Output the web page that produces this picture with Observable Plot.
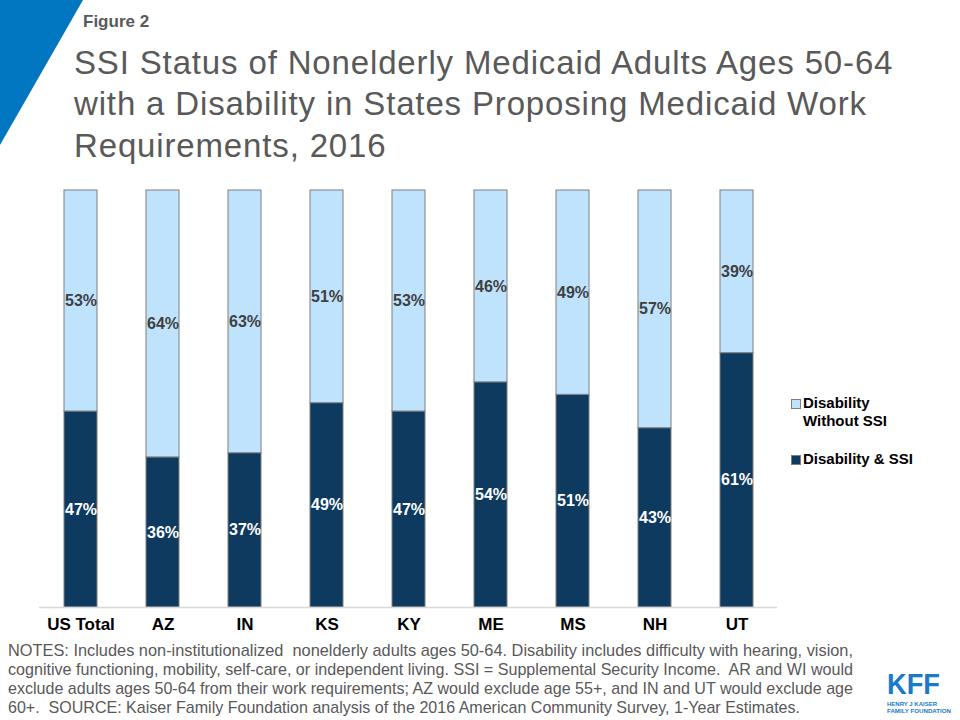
<!DOCTYPE html>
<html>
<head>
<meta charset="utf-8">
<script src="https://cdn.jsdelivr.net/npm/d3@7"></script>
<script src="https://cdn.jsdelivr.net/npm/@observablehq/plot@0.6"></script>
<style>
  body { margin: 0; background: #fff; }
  #page { position: relative; width: 960px; height: 720px; overflow: hidden; font-family: "Liberation Sans", Arial, sans-serif; }
  #tri { position: absolute; left: 0; top: 0; }
  #fig { position: absolute; left: 83px; top: 12px; font-size: 17px; font-weight: bold; color: #595959; }
  #title { position: absolute; left: 74px; top: 41.5px; font-size: 33px; letter-spacing: 0.85px; line-height: 41.5px; color: #595959; white-space: nowrap; }
  #chart { position: absolute; left: 0; top: 180px; }
  .leg { position: absolute; left: 791px; font-size: 15px; font-weight: bold; color: #000; line-height: 18px; }
  .sw { position: absolute; left: 0; top: 5px; width: 8px; height: 8px; border: 1px solid #7f7f7f; }
  .legtxt { position: absolute; left: 12px; top: 0; white-space: nowrap; }
  #notes { position: absolute; left: 8px; top: 641px; width: 860px; font-size: 17px; line-height: 19px; color: #595959; }
  #notes div { height: 19px; }
  #notes span { display: inline-block; white-space: pre; transform-origin: 0 0; }
  #logo { position: absolute; left: 887px; top: 668px; width: 70px; height: 52px; color: #1a7ac9; font-weight: bold; }
  #logo span { position: absolute; left: 0; display: inline-block; white-space: nowrap; transform-origin: 0 0; }
</style>
</head>
<body>
<div id="page">
  <svg id="tri" width="90" height="150"><polygon points="0,0 83,0 0,145" fill="#0077c0"/></svg>
  <div id="fig">Figure 2</div>
  <div id="title">SSI Status of Nonelderly Medicaid Adults Ages 50-64<br>with a Disability in States Proposing Medicaid Work<br>Requirements, 2016</div>
  <div id="chart"></div>
  <div class="leg" style="top:394px;"><div class="sw" style="background:#bfe3fd;"></div><div class="legtxt">Disability<br>Without SSI</div></div>
  <div class="leg" style="top:450px;"><div class="sw" style="background:#0f3a5f;"></div><div class="legtxt">Disability &amp; SSI</div></div>
  <div id="notes">
    <div><span data-w="845">NOTES: Includes non-institutionalized  nonelderly adults ages 50-64. Disability includes difficulty with hearing, vision,</span></div>
    <div><span data-w="845">cognitive functioning, mobility, self-care, or independent living. SSI = Supplemental Security Income.  AR and WI would</span></div>
    <div><span data-w="845">exclude adults ages 50-64 from their work requirements; AZ would exclude age 55+, and IN and UT would exclude age</span></div>
    <div><span data-w="792">60+.  SOURCE: Kaiser Family Foundation analysis of the 2016 American Community Survey, 1-Year Estimates.</span></div>
  </div>
  <div id="logo">
    <span data-w="53" style="top:1.6px; font-size:30px; line-height:28px;">KFF</span>
    <span data-w="50" style="top:33.1px; font-size:5.5px; line-height:6px;">HENRY J KAISER</span>
    <span data-w="64" style="top:40.1px; font-size:5.5px; line-height:6px;">FAMILY FOUNDATION</span>
  </div>
</div>
<script>
const states = ["US Total", "AZ", "IN", "KS", "KY", "ME", "MS", "NH", "UT"];
const withSSI = [47, 36, 37, 49, 47, 54, 51, 43, 61];
const withoutSSI = [53, 64, 63, 51, 53, 46, 49, 57, 39];
const seriesNames = ["Disability & SSI", "Disability Without SSI"];
const seriesColors = ["#0f3a5f", "#bfe3fd"];

const data = [];
states.forEach((s, i) => {
  data.push({state: s, series: seriesNames[0], value: withSSI[i]});
  data.push({state: s, series: seriesNames[1], value: withoutSSI[i]});
});

const stackOpts = {x: "state", y: "value", z: "series", order: seriesNames};
const label = (name) => (d) => d.series === name ? d.value + "%" : null;

const chart = Plot.plot({
  width: 780,
  height: 460,
  marginTop: 10,
  marginBottom: 33,
  marginLeft: 39,
  marginRight: 3,
  style: {fontFamily: "Liberation Sans, Arial, sans-serif", background: "transparent"},
  x: {domain: states, paddingInner: 0.6, paddingOuter: 0.3, label: null},
  y: {domain: [0, 100], axis: null},
  color: {domain: seriesNames, range: seriesColors},
  marks: [
    Plot.barY(data, Plot.stackY({...stackOpts, fill: "series", stroke: "#7f7f7f", strokeWidth: 1})),
    Plot.ruleY([0], {stroke: "#d9d9d9", strokeWidth: 1.5}),
    Plot.text(data, Plot.stackY({...stackOpts, text: label(seriesNames[0]), fill: "white", fontSize: 16, fontWeight: "bold"})),
    Plot.text(data, Plot.stackY({...stackOpts, text: label(seriesNames[1]), fill: "#404040", fontSize: 16, fontWeight: "bold"})),
    Plot.axisX({tickSize: 0, tickPadding: 10, fontSize: 17, fontWeight: "bold", fill: "black", label: null})
  ]
});
document.getElementById("chart").appendChild(chart);

// fit condensed text lines to their widths
document.querySelectorAll("#notes span, #logo span").forEach(el => {
  const w = el.getBoundingClientRect().width;
  const target = +el.dataset.w;
  el.style.transform = `scaleX(${target / w})`;
});
</script>
</body>
</html>
